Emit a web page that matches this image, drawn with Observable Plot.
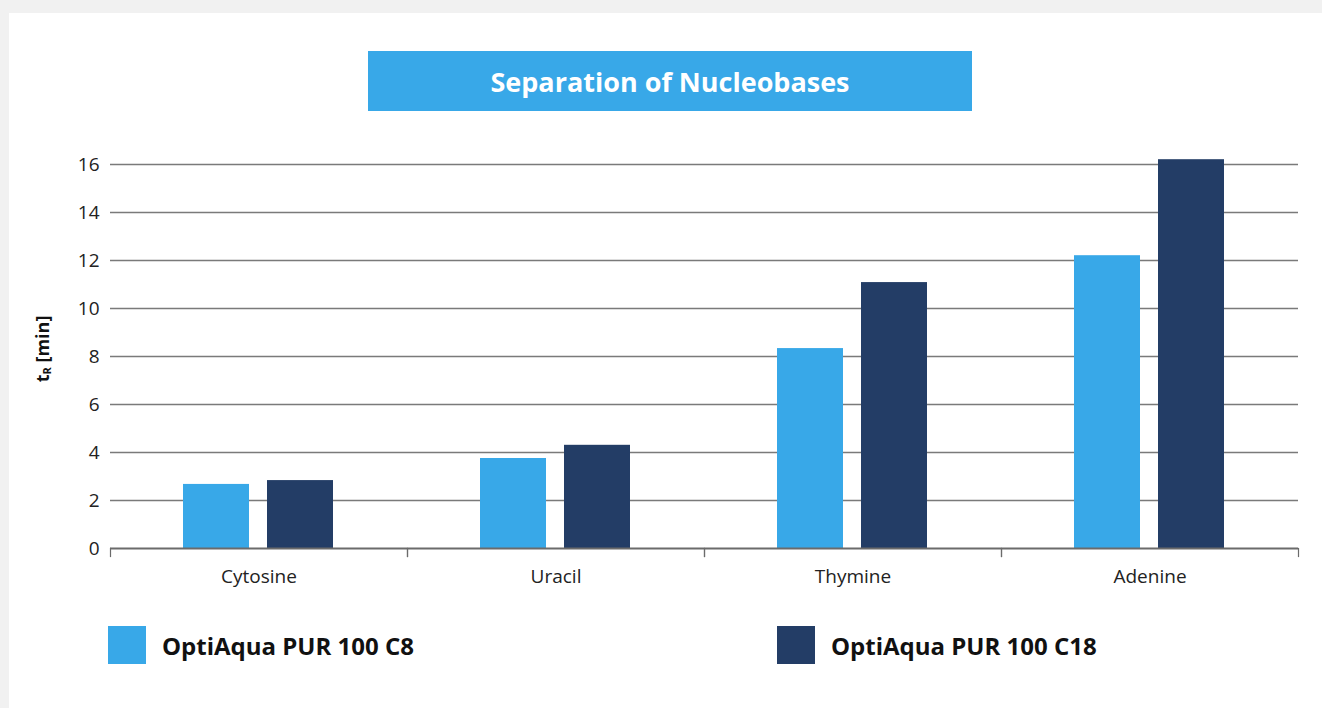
<!DOCTYPE html>
<html>
<head>
<meta charset="utf-8">
<script src="https://cdn.jsdelivr.net/npm/d3@7"></script>
<script src="https://cdn.jsdelivr.net/npm/@observablehq/plot@0.6"></script>
<style>
  html, body { margin: 0; padding: 0; }
  body { width: 1322px; height: 708px; background: #f1f1f1; position: relative; overflow: hidden; font-family: "Open Sans", "Noto Sans", sans-serif; }
  #panel { position: absolute; left: 9px; top: 13px; width: 1313px; height: 695px; background: #fff; }
  #title { position: absolute; left: 368px; top: 51px; width: 604px; height: 60px; background: #38a8e8; color: #fff; font-weight: 700; font-size: 27px; display: flex; align-items: center; justify-content: center; }
  #ylabel { position: absolute; left: 42px; top: 349px; transform: translate(-50%, -50%) rotate(-90deg); font-weight: 700; font-size: 18px; color: #111; white-space: nowrap; }
  #ylabel sub { font-size: 11px; vertical-align: -2px; }
  #chart { position: absolute; left: 0; top: 140px; }
  .leg { position: absolute; top: 626px; display: flex; align-items: center; height: 38px; }
  .leg .sw { width: 38px; height: 38px; margin-right: 16px; }
  .leg .tx { font-weight: 700; font-size: 24px; color: #111; }
  #chart svg text { font-size: 19px; }
</style>
</head>
<body>
<div id="panel"></div>
<div id="title"></div>
<div id="ylabel">t<sub>R</sub> [min]</div>
<div id="chart"></div>
<div id="leg0" class="leg" style="left:108px"></div>
<div id="leg1" class="leg" style="left:777px"></div>
<script>
const titleText = "Separation of Nucleobases";
const categories = ["Cytosine", "Uracil", "Thymine", "Adenine"];
const series = ["OptiAqua PUR 100 C8", "OptiAqua PUR 100 C18"];
const c8Values = [2.67, 3.75, 8.33, 12.2];
const c18Values = [2.83, 4.3, 11.08, 16.2];
const yTicks = [0, 2, 4, 6, 8, 10, 12, 14, 16];
const colors = ["#38a8e8", "#233d66"];

document.getElementById("title").textContent = titleText;

const rows = [];
categories.forEach((c, i) => {
  rows.push({category: c, series: series[0], value: c8Values[i]});
  rows.push({category: c, series: series[1], value: c18Values[i]});
});

const chart = Plot.plot({
  width: 1322,
  height: 458,
  marginLeft: 108,
  marginRight: 23,
  marginTop: 24,
  marginBottom: 50,
  style: {fontFamily: '"Open Sans", "Noto Sans", sans-serif', fontSize: "19px", color: "#222", background: "transparent"},
  fx: {domain: categories, padding: 0, label: null},
  x: {domain: series, paddingInner: 0.2118, paddingOuter: 0.859, axis: null},
  y: {domain: [0, 16], label: null},
  color: {domain: series, range: colors},
  marks: [
    Plot.gridY(yTicks.filter(d => d > 0), {stroke: "#7a7a7a", strokeOpacity: 1, strokeWidth: 1.3}),
    Plot.barY(rows, {fx: "category", x: "series", y: "value", fill: "series"}),
    Plot.ruleY([0], {stroke: "#6b6b6b", strokeWidth: 2.2}),
    Plot.frame({anchor: "left", insetTop: 384, insetBottom: -8, stroke: "#6b6b6b", strokeWidth: 1.2}),
    Plot.frame({anchor: "right", insetTop: 384, insetBottom: -8, stroke: "#6b6b6b", strokeWidth: 1.2}),
    Plot.axisY(yTicks, {tickSize: 0, tickPadding: 11, label: null, fontSize: 19}),
    Plot.axisFx({anchor: "bottom", tickSize: 0, tickPadding: 21, label: null, fontSize: 19})
  ]
});
document.getElementById("chart").appendChild(chart);

series.forEach((s, i) => {
  const el = document.getElementById("leg" + i);
  const sw = document.createElement("div");
  sw.className = "sw";
  sw.style.background = colors[i];
  const tx = document.createElement("div");
  tx.className = "tx";
  tx.textContent = s;
  el.appendChild(sw);
  el.appendChild(tx);
});
</script>
</body>
</html>
